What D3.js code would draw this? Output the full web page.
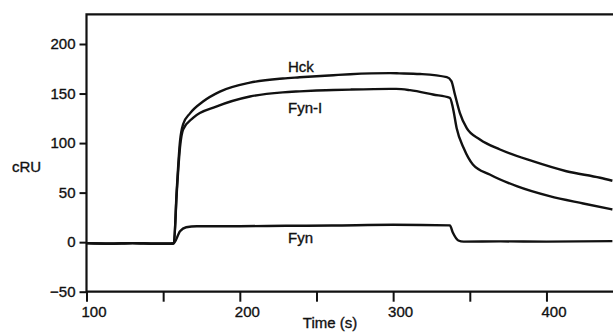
<!DOCTYPE html>
<html>
<head>
<meta charset="utf-8">
<script src="https://cdn.jsdelivr.net/npm/d3@7"></script>
<style>
  body { margin: 0; background: #fff; }
  text { font-family: "Liberation Sans", Arial, sans-serif; fill: #111; }
  .lbl { font-size: 15px; stroke: #111; stroke-width: 0.35px; }
</style>
</head>
<body>
<div id="chart"></div>
<script>
var svgWidth = 613;
var svgHeight = 332;

// sensorgram readings (time in s, response in cRU)
var hckTime = [100, 115, 130, 145, 155, 157, 158.8, 161, 163, 167.5, 176, 187, 206.6, 228, 239, 250, 261, 272, 298, 304, 317.6, 335, 338, 340.3, 343.5, 348, 356.6, 369.7, 391, 413, 435, 443];
var hckValue = [-1, -1.5, -1, -1.5, -1.5, -1, 51, 102, 119, 130, 142, 152, 161, 165.2, 166.4, 167.5, 168.5, 169.5, 170.6, 170.4, 169.7, 166.5, 162.5, 149, 130.5, 115, 103.7, 93.5, 81.7, 71.6, 65, 62];

var fynITime = [100, 115, 130, 145, 155, 157, 158.8, 161, 163, 169.5, 185, 206.6, 228, 239, 250, 261, 272, 298, 302, 311, 326, 337, 339, 341.4, 346, 352, 363, 380.6, 402, 424, 443];
var fynIValue = [-1, -1.5, -1, -1.5, -1.5, -1, 48, 96, 113.7, 125.4, 137, 147, 151.2, 152.2, 153, 153.5, 154, 154.7, 154.7, 153.4, 149, 145.6, 135.5, 115.3, 95, 78.4, 68.3, 56.5, 46.4, 39, 33];

var fynTime = [100, 115, 130, 145, 155, 156.6, 161, 165, 172, 200, 230, 260, 300, 337, 339, 342.5, 346, 370, 400, 443];
var fynValue = [-1, -1.5, -1, -1.5, -1.5, -1.5, 11, 15, 16, 16.1, 16.5, 16.8, 17.5, 16.9, 9.4, 1.7, 0.5, 0.8, 0.5, 1];

var yTicks = [-50, 0, 50, 100, 150, 200];
var xTicks = [100, 150, 200, 250, 300, 350, 400];
var xLabels = [100, 200, 300, 400];

var series = [
  {name: "Hck", time: hckTime, value: hckValue, lx: 288, ly: 72},
  {name: "Fyn-I", time: fynITime, value: fynIValue, lx: 288, ly: 113},
  {name: "Fyn", time: fynTime, value: fynValue, lx: 288, ly: 243}
];

var svg = d3.select("#chart")
    .append("svg")
    .attr("width", svgWidth)
    .attr("height", svgHeight);

var xScale = d3.scaleLinear()
    .domain([100, 443.4])
    .range([86.5, 613]);

var yScale = d3.scaleLinear()
    .domain([-50, 200])
    .range([291.7, 44]);

var yTop = yScale(230);

// frame: top border, left axis, bottom axis
svg.append("path")
    .attr("d", `M${svgWidth},${yTop}H${xScale(100)}V${yScale(-50)}H${svgWidth}`)
    .attr("fill", "none")
    .attr("stroke", "#111")
    .attr("stroke-width", 2.2);

var leftAxis = d3.axisLeft(yScale)
    .tickValues(yTicks)
    .tickSize(7)
    .tickPadding(4)
    .tickSizeOuter(0);

var gy = svg.append("g")
    .attr("transform", `translate(${xScale(100)}, 0)`)
    .call(leftAxis);
gy.select(".domain").remove();
gy.selectAll("line").attr("stroke", "#111").attr("stroke-width", 2);
gy.selectAll("text").attr("class", "lbl").style("font-size", "15px");

var bottomAxis = d3.axisBottom(xScale)
    .tickValues(xTicks)
    .tickSize(10)
    .tickPadding(5)
    .tickSizeOuter(0)
    .tickFormat(d => xLabels.indexOf(d) >= 0 ? d : "");

var gx = svg.append("g")
    .attr("transform", `translate(0, ${yScale(-50)})`)
    .call(bottomAxis);
gx.select(".domain").remove();
gx.selectAll("line").attr("stroke", "#111").attr("stroke-width", 2);
gx.selectAll("text").attr("class", "lbl").attr("dx", 7).style("font-size", "15px");

var line = d3.line()
    .curve(d3.curveMonotoneX)
    .x(d => xScale(d[0]))
    .y(d => yScale(d[1]));

series.forEach(function(s) {
  var pts = s.time.map((t, i) => [t, s.value[i]]);
  svg.append("path")
      .datum(pts)
      .attr("d", line)
      .attr("fill", "none")
      .attr("stroke", "#111")
      .attr("stroke-width", 2.4)
      .attr("stroke-linejoin", "round");
  svg.append("text")
      .attr("class", "lbl")
      .attr("x", s.lx)
      .attr("y", s.ly)
      .text(s.name);
});

svg.append("text")
    .attr("class", "lbl")
    .attr("x", 12)
    .attr("y", 172)
    .text("cRU");

svg.append("text")
    .attr("class", "lbl")
    .attr("x", 330)
    .attr("y", 328)
    .attr("text-anchor", "middle")
    .text("Time (s)");
</script>
</body>
</html>
